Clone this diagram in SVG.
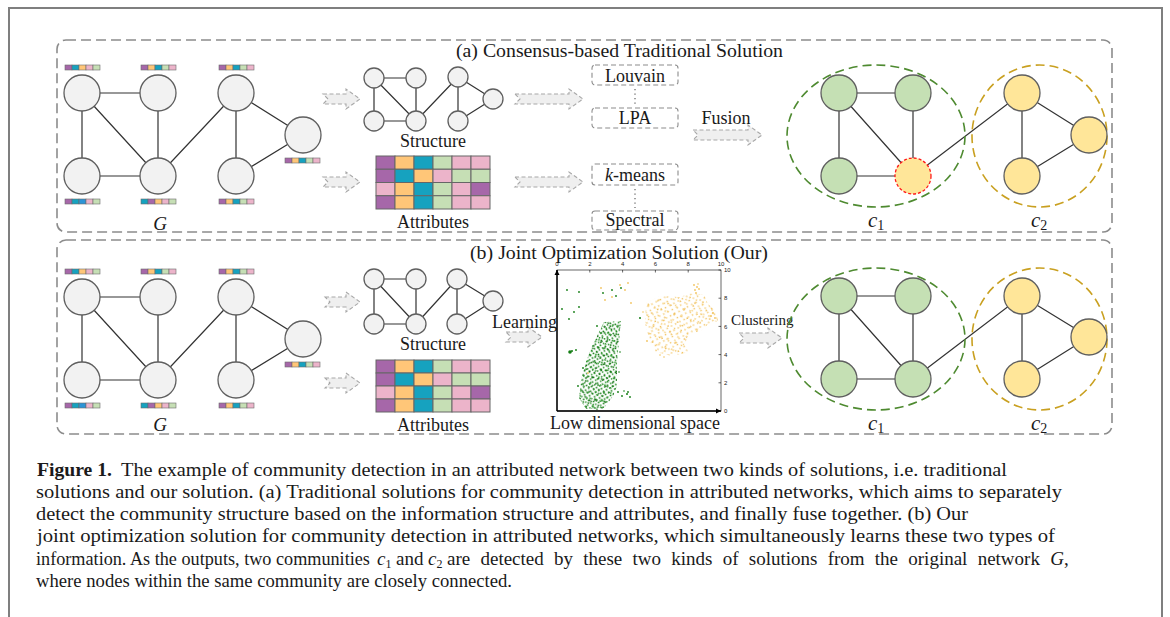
<svg xmlns="http://www.w3.org/2000/svg" width="1170" height="617" viewBox="0 0 1170 617">
<defs>
<style>
.t{font-family:"Liberation Serif","Times New Roman",serif;fill:#1a1a1a}
.lbl{font-size:18px;text-anchor:middle}
.nd{fill:#f2f2f2;stroke:#5f5f5f;stroke-width:1.3}
.ng{fill:#c5e0b4;stroke:#5f5f5f;stroke-width:1.3}
.ny{fill:#ffe699;stroke:#5f5f5f;stroke-width:1.3}
.nr{fill:#ffe699;stroke:#ff1a1a;stroke-width:1.3;stroke-dasharray:3 2}
.e{stroke:#333;stroke-width:1.2;fill:none}
.frame{fill:none;stroke:#8c8c8c;stroke-width:1.6;stroke-dasharray:10 5}
.mb{fill:none;stroke:#8c8c8c;stroke-width:1.1;stroke-dasharray:5 3}
.dots{stroke:#777;stroke-width:1.4;stroke-dasharray:1.3 3.2}
.arr{fill:#efefef;stroke:#a8a8a8;stroke-width:1.1;stroke-dasharray:4 2.5}
.P{fill:#a667a9}.T{fill:#16a2bf}.O{fill:#ffc678}.K{fill:#ecb4ca}.G{fill:#c6dfb5}.B{fill:#2d94d6}
.bar rect{stroke:#6b6b6b;stroke-width:.6}
.grid rect{stroke:#666;stroke-width:1}
.ce1{fill:none;stroke:#4e8a30;stroke-width:1.6;stroke-dasharray:9 5}
.ce2{fill:none;stroke:#c9a020;stroke-width:1.6;stroke-dasharray:9 5}
.cap{font-size:19px}
.tick{font-family:"Liberation Sans",sans-serif;font-size:6px;fill:#222}
.sg{fill:#137d13}.sy{fill:#f2c35f}
</style>
<pattern id="g1" width="5.1" height="4.7" patternUnits="userSpaceOnUse" patternTransform="rotate(12)"><circle cx="1.2" cy="1.3" r=".9" fill="#137d13"/><circle cx="3.9" cy="3.6" r=".85" fill="#1f8c1f"/></pattern>
<pattern id="g2" width="7.7" height="6.9" patternUnits="userSpaceOnUse" patternTransform="rotate(-27)"><circle cx="2.5" cy="5.1" r=".9" fill="#0f700f"/><circle cx="6.1" cy="1.9" r=".85" fill="#1a861a"/></pattern>
<pattern id="g3" width="9.9" height="11.3" patternUnits="userSpaceOnUse" patternTransform="rotate(53)"><circle cx="4.1" cy="2.7" r=".95" fill="#147a14"/><circle cx="8.2" cy="8.6" r=".9" fill="#2a9a2a"/><circle cx="1.3" cy="7.4" r=".8" fill="#0e6e0e"/></pattern>
<pattern id="y1" width="7" height="6.5" patternUnits="userSpaceOnUse" patternTransform="rotate(15)"><circle cx="1.5" cy="1.5" r=".85" fill="#f2c35f"/><circle cx="5" cy="4.6" r=".8" fill="#f6cf7a"/></pattern>
<pattern id="y2" width="10.3" height="9.1" patternUnits="userSpaceOnUse" patternTransform="rotate(-22)"><circle cx="3" cy="6.5" r=".85" fill="#efbd55"/><circle cx="8" cy="2.2" r=".8" fill="#f4c96c"/></pattern>
<pattern id="y3" width="12.7" height="11.9" patternUnits="userSpaceOnUse" patternTransform="rotate(61)"><circle cx="5.2" cy="3.1" r=".85" fill="#f0c058"/><circle cx="10.4" cy="9.3" r=".8" fill="#f5cc74"/></pattern>
<marker id="ax" markerWidth="6" markerHeight="6" refX="5" refY="3" orient="auto" markerUnits="userSpaceOnUse"><path d="M0,0.5 L5,3 L0,5.5 Z" fill="#000"/></marker>
</defs>
<rect width="1170" height="617" fill="#fff"/>
<path d="M9,617 V8 H1162 V617" fill="none" stroke="#7f7f7f" stroke-width="2"/>

<g id="panel-a">
<rect class="frame" x="57" y="40" width="1055" height="192" rx="9"/>
<text class="t" x="456" y="57" font-size="19.5" textLength="327" lengthAdjust="spacingAndGlyphs">(a) Consensus-based Traditional Solution</text>
</g>
<g id="panel-b">
<rect class="frame" x="57" y="240" width="1055" height="194" rx="9"/>
<text class="t" x="470" y="259" font-size="19.5" textLength="298" lengthAdjust="spacingAndGlyphs">(b)  Joint Optimization Solution (Our)</text>
</g>

<g id="connectors">
<path class="e" d="M82,93 H158 M82,93 V176 M82,93 L158,176 M158,93 V176 M82,176 H158 M158,176 L236,93 M236,93 V176 M236,93 L303,135 M236,176 L303,135"/>
<path class="e" d="M82,297 H158 M82,297 V380 M82,297 L158,380 M158,297 V380 M82,380 H158 M158,380 L236,297 M236,297 V380 M236,297 L303,339 M236,380 L303,339"/>
<path class="e" d="M374,78 H416 M374,78 V121 M374,78 L416,121 M416,78 V121 M374,121 H416 M416,121 L458,77 M458,77 V121 M458,77 L493,99 M458,121 L493,99"/>
<path class="e" d="M374,279 H416 M374,279 V324 M374,279 L416,324 M416,279 V324 M374,324 H416 M416,324 L457,279 M457,279 V324 M457,279 L493,301 M457,324 L493,301"/>
<path class="e" d="M839,93 H913 M839,93 V176 M839,93 L913,176 M913,93 V176 M839,176 H913 M913,176 L1022,93 M1022,93 V176 M1022,93 L1089,135 M1022,176 L1089,135"/>
<path class="e" d="M839,296 H913 M839,296 V379 M839,296 L913,379 M913,296 V379 M839,379 H913 M913,379 L1022,296 M1022,296 V379 M1022,296 L1089,337 M1022,379 L1089,337"/>
<path class="arr" d="M323,94 H346 V89 L360,99 L346,109 V104 H323 L328,99 Z"/>
<path class="arr" d="M323,177 H346 V172 L360,182 L346,192 V187 H323 L328,182 Z"/>
<path class="arr" d="M515,94 H569 V89 L583,99 L569,109 V104 H515 L520,99 Z"/>
<path class="arr" d="M515,177 H569 V172 L583,182 L569,192 V187 H515 L520,182 Z"/>
<path class="arr" d="M693,130 H748 V125 L762,135 L748,145 V140 H693 L698,135 Z"/>
<path class="arr" d="M325,297 H346 V292 L360,302 L346,312 V307 H325 L330,302 Z"/>
<path class="arr" d="M325,378 H346 V373 L360,383 L346,393 V388 H325 L330,383 Z"/>
<path class="arr" d="M506,332 H528 V327 L542,337 L528,347 V342 H506 L511,337 Z"/>
<path class="arr" d="M739,333 H768 V328 L782,338 L768,348 V343 H739 L744,338 Z"/>
</g>

<g id="a-G">
<g id="a-g1"><circle class="nd" cx="82" cy="93" r="18"/><g class="bar"><rect class="P" x="65" y="65" width="7" height="5"/><rect class="T" x="72" y="65" width="7" height="5"/><rect class="O" x="79" y="65" width="7" height="5"/><rect class="K" x="86" y="65" width="7" height="5"/><rect class="G" x="93" y="65" width="7" height="5"/></g></g>
<g id="a-g2"><circle class="nd" cx="158" cy="93" r="18"/><g class="bar"><rect class="P" x="141" y="65" width="7" height="5"/><rect class="O" x="148" y="65" width="7" height="5"/><rect class="T" x="155" y="65" width="7" height="5"/><rect class="G" x="162" y="65" width="7" height="5"/><rect class="K" x="169" y="65" width="7" height="5"/></g></g>
<g id="a-g3"><circle class="nd" cx="236" cy="93" r="18"/><g class="bar"><rect class="P" x="219" y="65" width="7" height="5"/><rect class="O" x="226" y="65" width="7" height="5"/><rect class="T" x="233" y="65" width="7" height="5"/><rect class="G" x="240" y="65" width="7" height="5"/><rect class="K" x="247" y="65" width="7" height="5"/></g></g>
<g id="a-g4"><circle class="nd" cx="82" cy="176" r="18"/><g class="bar"><rect class="P" x="65" y="199" width="7" height="5"/><rect class="T" x="72" y="199" width="7" height="5"/><rect class="B" x="79" y="199" width="7" height="5"/><rect class="K" x="86" y="199" width="7" height="5"/><rect class="G" x="93" y="199" width="7" height="5"/></g></g>
<g id="a-g5"><circle class="nd" cx="158" cy="176" r="18"/><g class="bar"><rect class="T" x="141" y="199" width="7" height="5"/><rect class="P" x="148" y="199" width="7" height="5"/><rect class="O" x="155" y="199" width="7" height="5"/><rect class="K" x="162" y="199" width="7" height="5"/><rect class="G" x="169" y="199" width="7" height="5"/></g></g>
<g id="a-g6"><circle class="nd" cx="236" cy="176" r="18"/><g class="bar"><rect class="P" x="219" y="199" width="7" height="5"/><rect class="O" x="226" y="199" width="7" height="5"/><rect class="T" x="233" y="199" width="7" height="5"/><rect class="G" x="240" y="199" width="7" height="5"/><rect class="K" x="247" y="199" width="7" height="5"/></g></g>
<g id="a-g7"><circle class="nd" cx="303" cy="135" r="18"/><g class="bar"><rect class="P" x="285" y="158" width="7" height="5"/><rect class="O" x="292" y="158" width="7" height="5"/><rect class="T" x="299" y="158" width="7" height="5"/><rect class="G" x="306" y="158" width="7" height="5"/><rect class="K" x="313" y="158" width="7" height="5"/></g></g>
<text class="t" x="160" y="230" font-size="19" font-style="italic" text-anchor="middle">G</text>
</g>

<g id="a-structure">
<circle class="nd" cx="374" cy="78" r="10"/><circle class="nd" cx="416" cy="78" r="10"/><circle class="nd" cx="458" cy="77" r="10"/><circle class="nd" cx="493" cy="99" r="10"/><circle class="nd" cx="374" cy="121" r="10"/><circle class="nd" cx="416" cy="121" r="10"/><circle class="nd" cx="458" cy="121" r="10"/>
<text class="t lbl" x="433" y="147">Structure</text>
</g>
<g id="a-attributes">
<g class="grid">
<rect class="P" x="376" y="156" width="19" height="13.25"/><rect class="O" x="395" y="156" width="19" height="13.25"/><rect class="T" x="414" y="156" width="19" height="13.25"/><rect class="G" x="433" y="156" width="19" height="13.25"/><rect class="K" x="452" y="156" width="19" height="13.25"/><rect class="K" x="471" y="156" width="19" height="13.25"/>
<rect class="P" x="376" y="169.25" width="19" height="13.25"/><rect class="T" x="395" y="169.25" width="19" height="13.25"/><rect class="O" x="414" y="169.25" width="19" height="13.25"/><rect class="K" x="433" y="169.25" width="19" height="13.25"/><rect class="G" x="452" y="169.25" width="19" height="13.25"/><rect class="G" x="471" y="169.25" width="19" height="13.25"/>
<rect class="K" x="376" y="182.5" width="19" height="13.25"/><rect class="O" x="395" y="182.5" width="19" height="13.25"/><rect class="T" x="414" y="182.5" width="19" height="13.25"/><rect class="G" x="433" y="182.5" width="19" height="13.25"/><rect class="K" x="452" y="182.5" width="19" height="13.25"/><rect class="P" x="471" y="182.5" width="19" height="13.25"/>
<rect class="P" x="376" y="195.75" width="19" height="13.25"/><rect class="O" x="395" y="195.75" width="19" height="13.25"/><rect class="T" x="414" y="195.75" width="19" height="13.25"/><rect class="G" x="433" y="195.75" width="19" height="13.25"/><rect class="K" x="452" y="195.75" width="19" height="13.25"/><rect class="K" x="471" y="195.75" width="19" height="13.25"/>
</g>
<text class="t lbl" x="433" y="228">Attributes</text>
</g>

<g id="a-methods">
<g id="m-louvain"><rect class="mb" x="592" y="65" width="86" height="20" rx="3"/><text class="t lbl" x="635" y="82">Louvain</text></g>
<line class="dots" x1="635" y1="89" x2="635" y2="106"/>
<g id="m-lpa"><rect class="mb" x="592" y="108" width="86" height="20" rx="3"/><text class="t lbl" x="635" y="124">LPA</text></g>
<g id="m-kmeans"><rect class="mb" x="592" y="164" width="86" height="21" rx="3"/><text class="t lbl" x="635" y="181"><tspan font-style="italic">k</tspan>-means</text></g>
<line class="dots" x1="635" y1="189" x2="635" y2="208"/>
<g id="m-spectral"><rect class="mb" x="592" y="211" width="86" height="19" rx="3"/><text class="t lbl" x="635" y="226">Spectral</text></g>
<text class="t lbl" x="726" y="124">Fusion</text>
</g>

<g id="a-communities">
<ellipse class="ce1" cx="876" cy="136" rx="89" ry="71"/>
<ellipse class="ce2" cx="1039.5" cy="136" rx="67.5" ry="71"/>
<g id="a-c1"><circle class="ng" cx="839" cy="93" r="18"/><circle class="ng" cx="913" cy="93" r="18"/><circle class="ng" cx="839" cy="176" r="18"/><circle class="nr" cx="913" cy="176" r="18"/></g>
<g id="a-c2"><circle class="ny" cx="1022" cy="93" r="18"/><circle class="ny" cx="1022" cy="176" r="18"/><circle class="ny" cx="1089" cy="135" r="18"/></g>
<text class="t" x="868" y="227" font-size="21" font-style="italic">c<tspan font-size="14" font-style="normal" dy="3">1</tspan></text>
<text class="t" x="1031" y="227" font-size="21" font-style="italic">c<tspan font-size="14" font-style="normal" dy="3">2</tspan></text>
</g>

<g id="b-G">
<g id="b-g1"><circle class="nd" cx="82" cy="297" r="18"/><g class="bar"><rect class="P" x="65" y="269" width="7" height="5"/><rect class="T" x="72" y="269" width="7" height="5"/><rect class="O" x="79" y="269" width="7" height="5"/><rect class="K" x="86" y="269" width="7" height="5"/><rect class="G" x="93" y="269" width="7" height="5"/></g></g>
<g id="b-g2"><circle class="nd" cx="158" cy="297" r="18"/><g class="bar"><rect class="P" x="141" y="269" width="7" height="5"/><rect class="O" x="148" y="269" width="7" height="5"/><rect class="T" x="155" y="269" width="7" height="5"/><rect class="G" x="162" y="269" width="7" height="5"/><rect class="K" x="169" y="269" width="7" height="5"/></g></g>
<g id="b-g3"><circle class="nd" cx="236" cy="297" r="18"/><g class="bar"><rect class="P" x="219" y="269" width="7" height="5"/><rect class="O" x="226" y="269" width="7" height="5"/><rect class="T" x="233" y="269" width="7" height="5"/><rect class="G" x="240" y="269" width="7" height="5"/><rect class="K" x="247" y="269" width="7" height="5"/></g></g>
<g id="b-g4"><circle class="nd" cx="82" cy="380" r="18"/><g class="bar"><rect class="P" x="65" y="403" width="7" height="5"/><rect class="T" x="72" y="403" width="7" height="5"/><rect class="B" x="79" y="403" width="7" height="5"/><rect class="K" x="86" y="403" width="7" height="5"/><rect class="G" x="93" y="403" width="7" height="5"/></g></g>
<g id="b-g5"><circle class="nd" cx="158" cy="380" r="18"/><g class="bar"><rect class="T" x="141" y="403" width="7" height="5"/><rect class="P" x="148" y="403" width="7" height="5"/><rect class="O" x="155" y="403" width="7" height="5"/><rect class="K" x="162" y="403" width="7" height="5"/><rect class="G" x="169" y="403" width="7" height="5"/></g></g>
<g id="b-g6"><circle class="nd" cx="236" cy="380" r="18"/><g class="bar"><rect class="P" x="219" y="403" width="7" height="5"/><rect class="O" x="226" y="403" width="7" height="5"/><rect class="T" x="233" y="403" width="7" height="5"/><rect class="G" x="240" y="403" width="7" height="5"/><rect class="K" x="247" y="403" width="7" height="5"/></g></g>
<g id="b-g7"><circle class="nd" cx="303" cy="339" r="18"/><g class="bar"><rect class="P" x="285" y="362" width="7" height="5"/><rect class="O" x="292" y="362" width="7" height="5"/><rect class="T" x="299" y="362" width="7" height="5"/><rect class="G" x="306" y="362" width="7" height="5"/><rect class="K" x="313" y="362" width="7" height="5"/></g></g>
<text class="t" x="160" y="431" font-size="19" font-style="italic" text-anchor="middle">G</text>
</g>

<g id="b-structure">
<circle class="nd" cx="374" cy="279" r="10"/><circle class="nd" cx="416" cy="279" r="10"/><circle class="nd" cx="457" cy="279" r="10"/><circle class="nd" cx="493" cy="301" r="10"/><circle class="nd" cx="374" cy="324" r="10"/><circle class="nd" cx="416" cy="324" r="10"/><circle class="nd" cx="457" cy="324" r="10"/>
<text class="t lbl" x="433" y="350">Structure</text>
</g>
<g id="b-attributes">
<g class="grid">
<rect class="P" x="376" y="360" width="19" height="13"/><rect class="O" x="395" y="360" width="19" height="13"/><rect class="T" x="414" y="360" width="19" height="13"/><rect class="G" x="433" y="360" width="19" height="13"/><rect class="K" x="452" y="360" width="19" height="13"/><rect class="K" x="471" y="360" width="19" height="13"/>
<rect class="P" x="376" y="373" width="19" height="13"/><rect class="T" x="395" y="373" width="19" height="13"/><rect class="O" x="414" y="373" width="19" height="13"/><rect class="K" x="433" y="373" width="19" height="13"/><rect class="G" x="452" y="373" width="19" height="13"/><rect class="G" x="471" y="373" width="19" height="13"/>
<rect class="K" x="376" y="386" width="19" height="13"/><rect class="O" x="395" y="386" width="19" height="13"/><rect class="T" x="414" y="386" width="19" height="13"/><rect class="G" x="433" y="386" width="19" height="13"/><rect class="K" x="452" y="386" width="19" height="13"/><rect class="P" x="471" y="386" width="19" height="13"/>
<rect class="P" x="376" y="399" width="19" height="13"/><rect class="O" x="395" y="399" width="19" height="13"/><rect class="T" x="414" y="399" width="19" height="13"/><rect class="G" x="433" y="399" width="19" height="13"/><rect class="K" x="452" y="399" width="19" height="13"/><rect class="K" x="471" y="399" width="19" height="13"/>
</g>
<text class="t lbl" x="433" y="431">Attributes</text>
</g>

<text class="t" x="492" y="328" font-size="18">Learning</text>
<text class="t" x="731" y="325" font-size="15">Clustering</text>

<g id="b-embedding">
<rect x="557" y="270" width="164" height="141" fill="#fff" stroke="#000" stroke-width=".6"/>
<path d="M646,303 L660,296 L680,297 L692,293 L704,295 L708,304 L716,311 L718,321 L708,324 L702,330 L690,335 L684,344 L689,352 L672,356 L656,352 L650,342 L645,323 Z" fill="url(#y1)"/>
<path d="M646,303 L660,296 L680,297 L692,293 L704,295 L708,304 L716,311 L718,321 L708,324 L702,330 L690,335 L684,344 L689,352 L672,356 L656,352 L650,342 L645,323 Z" fill="url(#y2)"/>
<path d="M646,303 L660,296 L680,297 L692,293 L704,295 L708,304 L716,311 L718,321 L708,324 L702,330 L690,335 L684,344 L689,352 L672,356 L656,352 L650,342 L645,323 Z" fill="url(#y3)"/>
<path d="M604,322 L621,321 L619,342 L617,362 L617,386 L613,396 L604,408 L586,409 L579,398 L581,380 L586,362 L592,346 L599,332 Z" fill="url(#g1)"/>
<path d="M604,322 L621,321 L619,342 L617,362 L617,386 L613,396 L604,408 L586,409 L579,398 L581,380 L586,362 L592,346 L599,332 Z" fill="url(#g2)"/>
<path d="M604,322 L621,321 L619,342 L617,362 L617,386 L613,396 L604,408 L586,409 L579,398 L581,380 L586,362 L592,346 L599,332 Z" fill="url(#g3)"/>
<ellipse cx="595" cy="403" rx="9" ry="6" fill="url(#g3)" transform="translate(1.5,1)"/>
<g class="sg">
<circle cx="567" cy="290" r=".9"/><circle cx="579" cy="292" r=".9"/><circle cx="562" cy="309" r=".9"/><circle cx="569" cy="319" r=".9"/><circle cx="574" cy="312" r=".9"/><circle cx="579" cy="307" r=".9"/>
<circle cx="570" cy="352" r="1.8"/><circle cx="572" cy="351" r="1"/><circle cx="576" cy="350" r=".9"/>
<circle cx="603" cy="293" r=".9"/><circle cx="612" cy="290" r=".9"/><circle cx="616" cy="296" r=".9"/><circle cx="621" cy="288" r=".9"/><circle cx="640" cy="318" r="1"/>
<circle cx="618" cy="392" r=".9"/><circle cx="622" cy="396" r=".9"/><circle cx="627" cy="394" r="1"/><circle cx="630" cy="397" r=".9"/><circle cx="628" cy="392" r=".9"/><circle cx="624" cy="391" r=".8"/>
<circle cx="583" cy="368" r=".9"/><circle cx="578" cy="386" r=".9"/><circle cx="597" cy="326" r=".9"/><circle cx="620" cy="352" r=".8"/><circle cx="619" cy="372" r=".8"/>
</g>
<g class="sy">
<circle cx="605" cy="300" r=".9"/><circle cx="612" cy="297" r=".9"/><circle cx="620" cy="285" r=".9"/><circle cx="625" cy="290" r=".9"/><circle cx="628" cy="283" r=".9"/><circle cx="601" cy="288" r=".9"/><circle cx="588" cy="373" r=".9"/><circle cx="631" cy="303" r=".9"/><circle cx="647" cy="341" r=".9"/>
<circle cx="694" cy="285" r=".9"/><circle cx="697" cy="287" r=".9"/><circle cx="695" cy="290" r=".9"/><circle cx="699" cy="289" r=".9"/><circle cx="696" cy="293" r=".9"/><circle cx="698" cy="284" r=".8"/>
<circle cx="643" cy="312" r=".8"/><circle cx="711" cy="316" r=".9"/><circle cx="715" cy="318" r=".9"/><circle cx="713" cy="313" r=".9"/><circle cx="664" cy="357" r=".8"/><circle cx="660" cy="355" r=".8"/>
</g>
<line x1="557" y1="411" x2="557" y2="270" stroke="#000" stroke-width="1.4" marker-end="url(#ax)"/>
<line x1="557" y1="411" x2="721" y2="411" stroke="#000" stroke-width="1.4" marker-end="url(#ax)"/>
<path d="M721,270 h-2.5 M721,298.2 h-2.5 M721,326.4 h-2.5 M721,354.6 h-2.5 M721,382.8 h-2.5 M557,270 v2.5 M589.8,270 v2.5 M622.6,270 v2.5 M655.4,270 v2.5 M688.2,270 v2.5" stroke="#000" stroke-width=".6"/>
<g class="tick" text-anchor="middle">
<text x="557" y="266">0</text><text x="589.8" y="266">2</text><text x="622.6" y="266">4</text><text x="655.4" y="266">6</text><text x="688.2" y="266">8</text><text x="721" y="266">10</text>
</g>
<g class="tick">
<text x="724" y="272">10</text><text x="724" y="300">8</text><text x="724" y="328.5">6</text><text x="724" y="356.5">4</text><text x="724" y="385">2</text><text x="724" y="413">0</text>
</g>
<text class="t lbl" x="635" y="429">Low dimensional space</text>
</g>

<g id="b-communities">
<ellipse class="ce1" cx="876" cy="339" rx="89" ry="71"/>
<ellipse class="ce2" cx="1039.5" cy="339" rx="67.5" ry="71"/>
<g id="b-c1"><circle class="ng" cx="839" cy="296" r="18"/><circle class="ng" cx="913" cy="296" r="18"/><circle class="ng" cx="839" cy="379" r="18"/><circle class="ng" cx="913" cy="379" r="18"/></g>
<g id="b-c2"><circle class="ny" cx="1022" cy="296" r="18"/><circle class="ny" cx="1022" cy="379" r="18"/><circle class="ny" cx="1089" cy="337" r="18"/></g>
<text class="t" x="868" y="430" font-size="21" font-style="italic">c<tspan font-size="14" font-style="normal" dy="3">1</tspan></text>
<text class="t" x="1031" y="430" font-size="21" font-style="italic">c<tspan font-size="14" font-style="normal" dy="3">2</tspan></text>
</g>

<g id="caption" class="t cap">
<text x="37" y="476" font-weight="bold" textLength="75" lengthAdjust="spacingAndGlyphs">Figure 1.</text>
<text x="121" y="476" textLength="886" lengthAdjust="spacingAndGlyphs">The example of community detection in an attributed network between two kinds of solutions, i.e. traditional</text>
<text x="36" y="498" textLength="1026" lengthAdjust="spacingAndGlyphs">solutions and our solution. (a) Traditional solutions for community detection in attributed networks, which aims to separately</text>
<text x="36" y="520" textLength="932" lengthAdjust="spacingAndGlyphs">detect the community structure based on the information structure and attributes, and finally fuse together. (b) Our</text>
<text x="37" y="542" textLength="1018" lengthAdjust="spacingAndGlyphs">joint optimization solution for community detection in attributed networks, which simultaneously learns these two types of</text>
<text x="36" y="565" font-size="18.2">information. As the outputs, two communities</text>
<text x="377" y="565" font-style="italic">c<tspan font-size="12" font-style="normal" dy="3">1</tspan></text>
<text x="396" y="565">and</text>
<text x="428" y="565" font-style="italic">c<tspan font-size="12" font-style="normal" dy="3">2</tspan></text>
<text x="447" y="565" word-spacing="5.5">are detected by these two kinds of solutions from the original network <tspan font-style="italic">G</tspan>,</text>
<text x="36" y="587" textLength="476" lengthAdjust="spacingAndGlyphs">where nodes within the same community are closely connected.</text>
</g>
</svg>
